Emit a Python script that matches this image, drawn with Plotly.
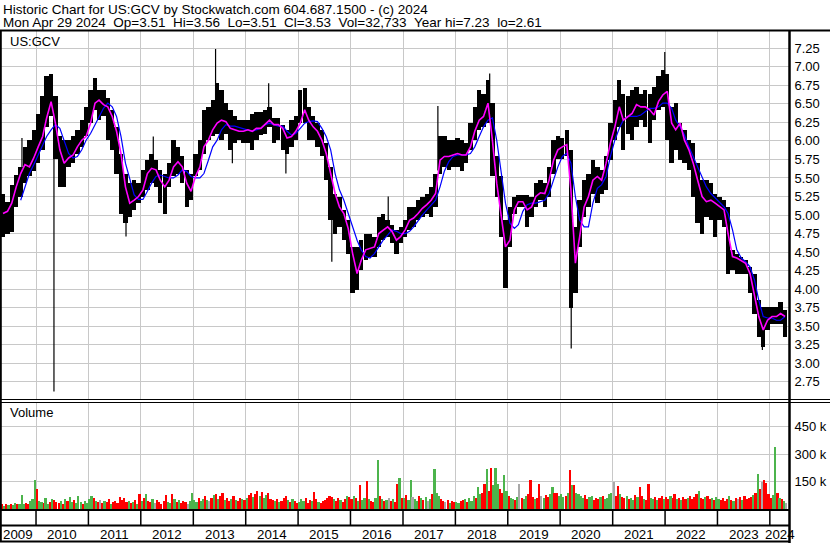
import plotly.graph_objects as go
import pandas as pd

# ---------------- data ----------------
# monthly price range of the bar band, May 2009 .. Apr 2024
hi = [
    5.29, 5.18, 5.40, 5.54, 5.65, 5.92, 6.01, 6.15,                                # 2009 May-Dec
    6.37, 6.60, 6.87, 6.91, 6.60, 6.06, 6.01, 6.01, 6.06, 6.15, 6.28, 6.46,        # 2010
    6.69, 6.85, 6.69, 6.69, 6.58, 6.42, 6.19, 5.83, 5.56, 5.43, 5.47, 5.43,        # 2011
    5.61, 5.74, 5.83, 5.74, 5.61, 5.56, 5.70, 6.01, 5.92, 5.79, 5.61, 5.56,        # 2012
    5.83, 6.01, 6.42, 6.46, 6.55, 6.78, 6.69, 6.51, 6.42, 6.33, 6.28, 6.28,        # 2013
    6.28, 6.37, 6.39, 6.39, 6.42, 6.46, 6.31, 6.31, 6.22, 6.15, 6.28, 6.33,        # 2014
    6.69, 6.71, 6.46, 6.33, 6.24, 6.15, 5.97, 5.65, 5.29, 5.25, 5.07, 4.93,        # 2015
    4.57, 4.57, 4.66, 4.75, 4.75, 4.71, 4.98, 5.02, 4.93, 4.87, 4.80, 4.84,        # 2016
    4.93, 5.11, 5.11, 5.20, 5.25, 5.29, 5.38, 5.56, 6.06, 6.06, 6.01, 6.01,        # 2017
    6.04, 6.01, 5.97, 6.24, 6.46, 6.69, 6.64, 6.82, 6.51, 5.79, 5.52, 4.93,        # 2018
    5.11, 5.25, 5.27, 5.27, 5.27, 5.25, 5.43, 5.47, 5.43, 5.65, 6.01, 6.06,        # 2019
    6.04, 6.15, 5.88, 4.84, 5.20, 5.47, 5.56, 5.74, 5.65, 5.61, 5.79, 6.24,        # 2020
    6.55, 6.82, 6.64, 6.60, 6.69, 6.73, 6.64, 6.69, 6.64, 6.73, 6.87, 6.96,        # 2021
    6.91, 6.46, 6.51, 6.24, 6.15, 6.01, 5.97, 5.70, 5.47, 5.47, 5.43, 5.29,        # 2022
    5.25, 5.20, 5.11, 4.53, 4.48, 4.44, 4.39, 4.30, 4.21, 3.85, 3.76, 3.76,        # 2023
    3.76, 3.76, 3.83, 3.72,                                                        # 2024 Jan-Apr
]
lo = [
    4.71, 4.75, 4.77, 5.11, 5.25, 5.43, 5.52, 5.59,
    5.70, 5.88, 6.19, 6.33, 5.75, 5.38, 5.38, 5.65, 5.70, 5.83, 5.92, 6.06,
    6.24, 6.42, 6.28, 6.33, 6.01, 5.88, 5.56, 5.02, 4.89, 4.98, 5.07, 5.16,
    5.25, 5.34, 5.43, 5.38, 5.16, 5.02, 5.38, 5.52, 5.56, 5.43, 5.11, 5.20,
    5.52, 5.61, 5.83, 6.01, 6.06, 6.10, 6.01, 6.10, 5.88, 5.97, 6.01, 5.97,
    5.97, 5.88, 6.01, 6.08, 6.10, 6.19, 5.97, 6.01, 5.88, 5.83, 5.92, 6.01,
    6.24, 6.24, 6.01, 6.01, 5.92, 5.79, 5.47, 4.93, 4.75, 4.84, 4.66, 4.48,
    3.95, 3.99, 4.26, 4.39, 4.44, 4.44, 4.57, 4.66, 4.71, 4.62, 4.48, 4.62,
    4.71, 4.80, 4.84, 4.93, 4.98, 5.02, 4.98, 5.11, 5.56, 5.65, 5.61, 5.65,
    5.65, 5.59, 5.70, 5.88, 6.01, 6.15, 6.19, 6.24, 5.52, 5.25, 4.71, 4.01,
    4.57, 5.02, 5.11, 5.11, 4.84, 4.98, 5.11, 5.20, 5.11, 5.25, 5.56, 5.75,
    5.75, 5.79, 3.75, 3.95, 4.57, 4.98, 5.11, 5.29, 5.16, 5.29, 5.34, 5.74,
    6.01, 6.19, 5.88, 6.10, 6.01, 6.19, 6.28, 6.19, 5.97, 6.28, 6.42, 6.46,
    6.01, 5.70, 5.88, 5.74, 5.70, 5.61, 5.25, 4.89, 4.75, 4.98, 4.93, 4.71,
    4.93, 4.84, 4.21, 4.26, 4.21, 4.21, 4.21, 3.95, 3.67, 3.36, 3.22, 3.45,
    3.53, 3.53, 3.53, 3.36,
]
# isolated single-day extremes
spike_dates = ["2009-09-25", "2010-05-06", "2011-09-20", "2012-03-28", "2013-06-05",
               "2013-09-30", "2014-06-10", "2014-10-08", "2015-08-24", "2016-09-20",
               "2017-09-01", "2018-08-28", "2020-03-18", "2021-12-30", "2023-11-10"]
spike_lo = [5.40, 2.62, 4.71, 5.60, 6.20, 5.70, 6.20, 5.56, 4.37, 4.75,
            5.60, 6.30, 3.20, 6.50, 3.18]
spike_hi = [6.04, 6.30, 5.20, 6.06, 7.24, 6.20, 6.78, 6.00, 5.20, 5.25,
            6.47, 6.91, 5.00, 7.20, 3.60]

# short (magenta) and long (blue) moving averages, monthly readings
ma_fast = [
    5.02, 5.05, 5.16, 5.38, 5.56, 5.68, 5.65, 5.77,
    5.92, 6.06, 6.31, 6.53, 6.24, 5.88, 5.70, 5.77, 5.81, 5.92, 6.01, 6.06,
    6.24, 6.51, 6.55, 6.49, 6.46, 6.33, 6.13, 5.83, 5.38, 5.16, 5.20, 5.25,
    5.34, 5.56, 5.63, 5.61, 5.47, 5.38, 5.47, 5.65, 5.72, 5.65, 5.43, 5.32,
    5.52, 5.65, 5.92, 6.01, 6.15, 6.24, 6.28, 6.26, 6.17, 6.15, 6.13, 6.13,
    6.15, 6.13, 6.17, 6.17, 6.22, 6.28, 6.22, 6.22, 6.17, 6.04, 6.06, 6.13,
    6.24, 6.42, 6.28, 6.19, 6.13, 6.01, 5.83, 5.56, 5.29, 5.11, 5.02, 4.82,
    4.48, 4.21, 4.39, 4.53, 4.55, 4.57, 4.75, 4.80, 4.84, 4.78, 4.66, 4.71,
    4.80, 4.93, 4.96, 5.02, 5.09, 5.14, 5.20, 5.29, 5.74, 5.79, 5.79, 5.81,
    5.83, 5.81, 5.81, 5.92, 6.13, 6.28, 6.33, 6.51, 6.01, 5.43, 5.02, 4.57,
    4.66, 5.07, 5.18, 5.18, 5.07, 5.11, 5.25, 5.30, 5.29, 5.47, 5.74, 5.88,
    5.92, 5.95, 5.34, 4.35, 4.71, 5.11, 5.25, 5.47, 5.52, 5.47, 5.70, 5.97,
    6.19, 6.46, 6.28, 6.33, 6.37, 6.49, 6.46, 6.46, 6.42, 6.35, 6.53, 6.62,
    6.67, 6.24, 6.15, 6.24, 6.01, 5.88, 5.70, 5.47, 5.25, 5.18, 5.20, 5.16,
    5.11, 5.07, 4.75, 4.44, 4.42, 4.39, 4.35, 4.21, 3.90, 3.63, 3.45, 3.58,
    3.63, 3.63, 3.67, 3.63,
]
ma_slow = [
    None, None, None, None, 5.20, 5.38, 5.56, 5.68,
    5.81, 5.92, 6.06, 6.15, 6.22, 6.17, 6.01, 5.83, 5.77, 5.79, 5.88, 6.01,
    6.10, 6.22, 6.33, 6.44, 6.51, 6.46, 6.33, 6.06, 5.70, 5.47, 5.27, 5.21,
    5.21, 5.32, 5.43, 5.52, 5.54, 5.52, 5.50, 5.50, 5.54, 5.61, 5.59, 5.52,
    5.50, 5.50, 5.56, 5.74, 5.92, 6.01, 6.15, 6.22, 6.20, 6.20, 6.18, 6.16,
    6.15, 6.13, 6.15, 6.17, 6.22, 6.24, 6.22, 6.20, 6.20, 6.13, 6.08, 6.10,
    6.17, 6.24, 6.26, 6.27, 6.26, 6.17, 6.06, 5.88, 5.56, 5.34, 5.20, 5.02,
    4.84, 4.66, 4.53, 4.44, 4.42, 4.48, 4.57, 4.66, 4.73, 4.80, 4.78, 4.75,
    4.75, 4.78, 4.84, 4.93, 5.00, 5.07, 5.14, 5.20, 5.38, 5.59, 5.72, 5.79,
    5.81, 5.81, 5.81, 5.83, 5.92, 6.06, 6.19, 6.28, 6.31, 6.01, 5.56, 5.16,
    4.89, 4.82, 4.87, 5.05, 5.14, 5.16, 5.16, 5.18, 5.20, 5.29, 5.47, 5.65,
    5.79, 5.83, 5.70, 5.25, 4.93, 4.84, 4.84, 5.16, 5.36, 5.41, 5.52, 5.79,
    6.01, 6.17, 6.28, 6.33, 6.33, 6.33, 6.35, 6.40, 6.44, 6.44, 6.46, 6.51,
    6.51, 6.44, 6.28, 6.19, 6.08, 5.92, 5.79, 5.65, 5.52, 5.38, 5.29, 5.23,
    5.16, 5.11, 5.02, 4.80, 4.53, 4.42, 4.37, 4.30, 4.12, 3.85, 3.63, 3.61,
    3.61, 3.58, 3.58, 3.63,
]

# half-monthly volume (thousands) and direction (g=up, r=down, n=unchanged)
vol_k = [
    25, 18, 30, 22, 28, 20, 35, 25, 30, 74, 30, 35, 28, 45, 53, 157,
    108, 45, 40, 35, 60, 30, 40, 55, 50, 40, 35, 45, 30, 55, 45, 65, 40, 50, 35, 70, 40, 30, 45, 35,
    55, 70, 60, 45, 40, 50, 35, 45, 40, 55, 30, 40, 45, 35, 65, 50, 60, 40, 45, 35, 40, 50, 30, 80,
    45, 60, 80, 45, 40, 55, 35, 50, 40, 30, 45, 75, 40, 35, 80, 55, 40, 50, 35, 45, 40, 30, 45, 85,
    50, 40, 60, 45, 55, 70, 50, 45, 60, 75, 80, 55, 70, 85, 50, 60, 45, 55, 70, 50, 45, 60, 55, 50,
    60, 75, 90, 65, 80, 100, 70, 95, 60, 75, 85, 55, 50, 45, 55, 40, 45, 60, 70, 50, 40, 55, 45, 35,
    40, 55, 45, 60, 35, 50, 45, 91, 55, 40, 35, 45, 50, 60, 70, 65, 55, 45, 60, 50, 40, 55, 70, 65,
    55, 70, 60, 45, 130, 50, 60, 152, 55, 45, 40, 60, 267, 70, 55, 45, 50, 60, 45, 55, 40, 134, 169, 60,
    60, 75, 50, 160, 65, 55, 45, 70, 60, 50, 65, 45, 55, 80, 217, 90, 70, 55, 45, 40, 50, 35, 45, 40,
    40, 35, 45, 50, 55, 40, 60, 45, 70, 60, 120, 80, 90, 139, 220, 100, 224, 130, 224, 139, 110, 90, 186, 100,
    70, 60, 55, 50, 65, 134, 60, 55, 70, 80, 157, 65, 55, 60, 134, 70, 60, 75, 65, 80, 122, 90, 85, 70,
    80, 65, 70, 85, 215, 130, 130, 90, 80, 70, 60, 75, 55, 65, 70, 50, 60, 55, 65, 70, 55, 60, 80, 90,
    150, 70, 125, 80, 65, 60, 70, 55, 60, 50, 75, 65, 120, 70, 55, 50, 134, 60, 55, 65, 50, 60, 70, 55,
    65, 55, 70, 60, 80, 55, 60, 50, 65, 55, 60, 70, 55, 65, 80, 100, 60, 55, 65, 70, 55, 60, 50, 65,
    55, 50, 60, 45, 55, 70, 50, 45, 60, 55, 65, 50, 70, 55, 60, 65, 75, 90, 190, 110, 150, 157, 140, 80,
    60, 75, 340, 90, 60, 55, 45, 33,
]
vol_dir = (
    "rgrgrggrgggrrggg"
    "rggrggrgrrrgrgrggrgggrgg"
    "ggrgrnrgrrgrrrrrrrgrgrgr"
    "grgrrgnrrrrrggrgrgrrrngg"
    "ggrggrgnrgrgrrgrrgrgrrgr"
    "grrgrrgrggrrrgrgrrrgrgrr"
    "gggrrrgrrgrrrrrrgrrgrrgr"
    "rgrgrggrgrrggrgrgnrgrrgr"
    "grggnggrgrgngrgggrrnrgrr"
    "ggrrgrgggrggrrgrrgggrrgg"
    "rggrgnrggrrrgrrngrrggrrg"
    "ggrgrgrggggrrggrrrgrgggg"
    "nrrgrrgrggrgrrgrrggrgrrg"
    "rrgrrgrgrrgrrrrgrrgrrgrg"
    "grrrrgrgrnrgrrrrgrgrnrrr"
    "rggrgrgn"
)

years = list(range(2009, 2025))
price_ticks = [2.75, 3.00, 3.25, 3.50, 3.75, 4.00, 4.25, 4.50, 4.75, 5.00,
               5.25, 5.50, 5.75, 6.00, 6.25, 6.50, 6.75, 7.00, 7.25]
vol_ticks = [150, 300, 450]

header1 = "Historic Chart for US:GCV by Stockwatch.com 604.687.1500 - (c) 2024"
header2_items = ["Mon Apr 29 2024", "Op=3.51", "Hi=3.56", "Lo=3.51", "Cl=3.53",
                 "Vol=32,733", "Year hi=7.23", "lo=2.61"]

# ---------------- layout helpers ----------------
W, H = 830, 543
FONT = "Arial, 'Liberation Sans', sans-serif"
X_START, X_END = pd.Timestamp("2009-04-25"), pd.Timestamp("2024-05-17")
PLOT_R = 789.5


def py(p):
    return 1 - p / H


def px(p):
    return p / W


months = pd.date_range("2009-05-01", "2024-04-01", freq="MS")
month_mid = months + pd.Timedelta(days=15)
DAY = 86400000
half_dates = []
for m in months:
    half_dates += [m + pd.Timedelta(days=7), m + pd.Timedelta(days=22)]

col_map = {"g": "#4CB44C", "r": "#FF0000", "n": "#A8A8A8"}
vol_colors = [col_map[c] for c in vol_dir]

fig = go.Figure()

# price band
fig.add_trace(go.Bar(
    x=month_mid, y=[h - l for h, l in zip(hi, lo)], base=lo,
    width=30.4 * DAY, marker=dict(color="black", line=dict(width=0)),
    xaxis="x", yaxis="y", showlegend=False, hoverinfo="skip"))

sx, sy = [], []
for d, l, h in zip(spike_dates, spike_lo, spike_hi):
    sx += [d, d, None]
    sy += [l, h, None]
fig.add_trace(go.Scatter(x=sx, y=sy, mode="lines", line=dict(color="black", width=1.2),
                         xaxis="x", yaxis="y", showlegend=False, hoverinfo="skip"))

fig.add_trace(go.Scatter(x=month_mid, y=ma_slow, mode="lines",
                         line=dict(color="#0000FF", width=1.2),
                         xaxis="x", yaxis="y", showlegend=False))
fig.add_trace(go.Scatter(x=month_mid, y=ma_fast, mode="lines",
                         line=dict(color="#FF00FF", width=1.6),
                         xaxis="x", yaxis="y", showlegend=False))

# volume
fig.add_trace(go.Bar(
    x=half_dates, y=vol_k, width=15.2 * DAY,
    marker=dict(color=vol_colors, line=dict(width=0)),
    xaxis="x2", yaxis="y2", showlegend=False))

year_starts = [f"{y}-01-01" for y in years[1:]]
grid = "#C8C8C8"

fig.update_layout(
    width=W, height=H, margin=dict(l=0, r=0, t=0, b=0, autoexpand=False),
    paper_bgcolor="white", plot_bgcolor="white",
    font=dict(family=FONT, size=13, color="black"),
    bargap=0,
    xaxis=dict(domain=[0, px(PLOT_R)], type="date", range=[X_START, X_END],
               tickvals=year_starts, showticklabels=False, ticks="", automargin=False,
               showgrid=True, gridcolor=grid, gridwidth=1, zeroline=False,
               showline=False, anchor="y"),
    xaxis2=dict(domain=[0, px(PLOT_R)], type="date", range=[X_START, X_END],
                matches="x", tickvals=year_starts, showticklabels=False, ticks="",
                automargin=False,
                showgrid=True, gridcolor=grid, gridwidth=1, zeroline=False,
                showline=False, anchor="y2"),
    yaxis=dict(domain=[py(399.5), py(31)], range=[2.5104, 7.4835], side="right",
               tickvals=price_ticks, ticktext=[f"{v:.2f}" for v in price_ticks],
               ticks="", ticklabelstandoff=4, showgrid=True, gridcolor=grid,
               gridwidth=1, zeroline=False, showline=False, anchor="x",
               automargin=False, tickfont=dict(size=13)),
    yaxis2=dict(domain=[py(509), py(402)], range=[0, 583.6], side="right",
                tickvals=vol_ticks, ticktext=[f"{v} k" for v in vol_ticks],
                ticks="", ticklabelstandoff=4, showgrid=True, gridcolor=grid,
                gridwidth=1, zeroline=False, showline=False, anchor="x2",
                automargin=False, tickfont=dict(size=13)),
)

shapes = []


def hline(y, x0=0, x1=W, w=1):
    shapes.append(dict(type="line", xref="paper", yref="paper", x0=px(x0), x1=px(x1),
                       y0=py(y), y1=py(y), line=dict(color="black", width=w)))


def vline(x, y0, y1, w=1):
    shapes.append(dict(type="line", xref="paper", yref="paper", x0=px(x), x1=px(x),
                       y0=py(y0), y1=py(y1), line=dict(color="black", width=w)))


hline(30.5, w=2)
hline(399.5, w=1)
hline(402.5, w=1)
hline(510, 0, PLOT_R, w=2)
hline(525.5, 0, PLOT_R, w=2)
hline(541.5, 0, PLOT_R, w=2)
vline(0.8, 30, 542, w=2)
vline(PLOT_R, 30, 543, w=2.5)
for ys in year_starts:
    shapes.append(dict(type="line", xref="x", yref="paper", x0=ys, x1=ys,
                       y0=py(510), y1=py(525), line=dict(color="black", width=1.5)))
fig.update_layout(shapes=shapes)

ann = []


def text(x, y, s, anchor="left", size=13):
    ann.append(dict(xref="paper", yref="paper", x=px(x), y=py(y), text=s, showarrow=False,
                    xanchor=anchor, yanchor="middle", font=dict(family=FONT, size=size, color="black")))


text(1, 9.5, header1, size=13.5)
text(1, 22.5, "\u00a0\u00a0".join(header2_items), size=13.5)
text(8, 41, "US:GCV")
text(8, 413, "Volume")

for y in years:
    a = max(pd.Timestamp(f"{y}-01-01"), X_START)
    b = min(pd.Timestamp(f"{y + 1}-01-01"), X_END)
    c = a + (b - a) / 2
    ann.append(dict(xref="x", yref="paper", x=c, y=py(534), text=str(y), showarrow=False,
                    xanchor="center", yanchor="middle",
                    font=dict(family=FONT, size=13.3, color="black")))
fig.update_layout(annotations=ann)

fig.write_html("out.html", config={"displayModeBar": False},
               post_script="document.body.style.margin='0px';"
               "document.body.style.overflow='hidden';")
